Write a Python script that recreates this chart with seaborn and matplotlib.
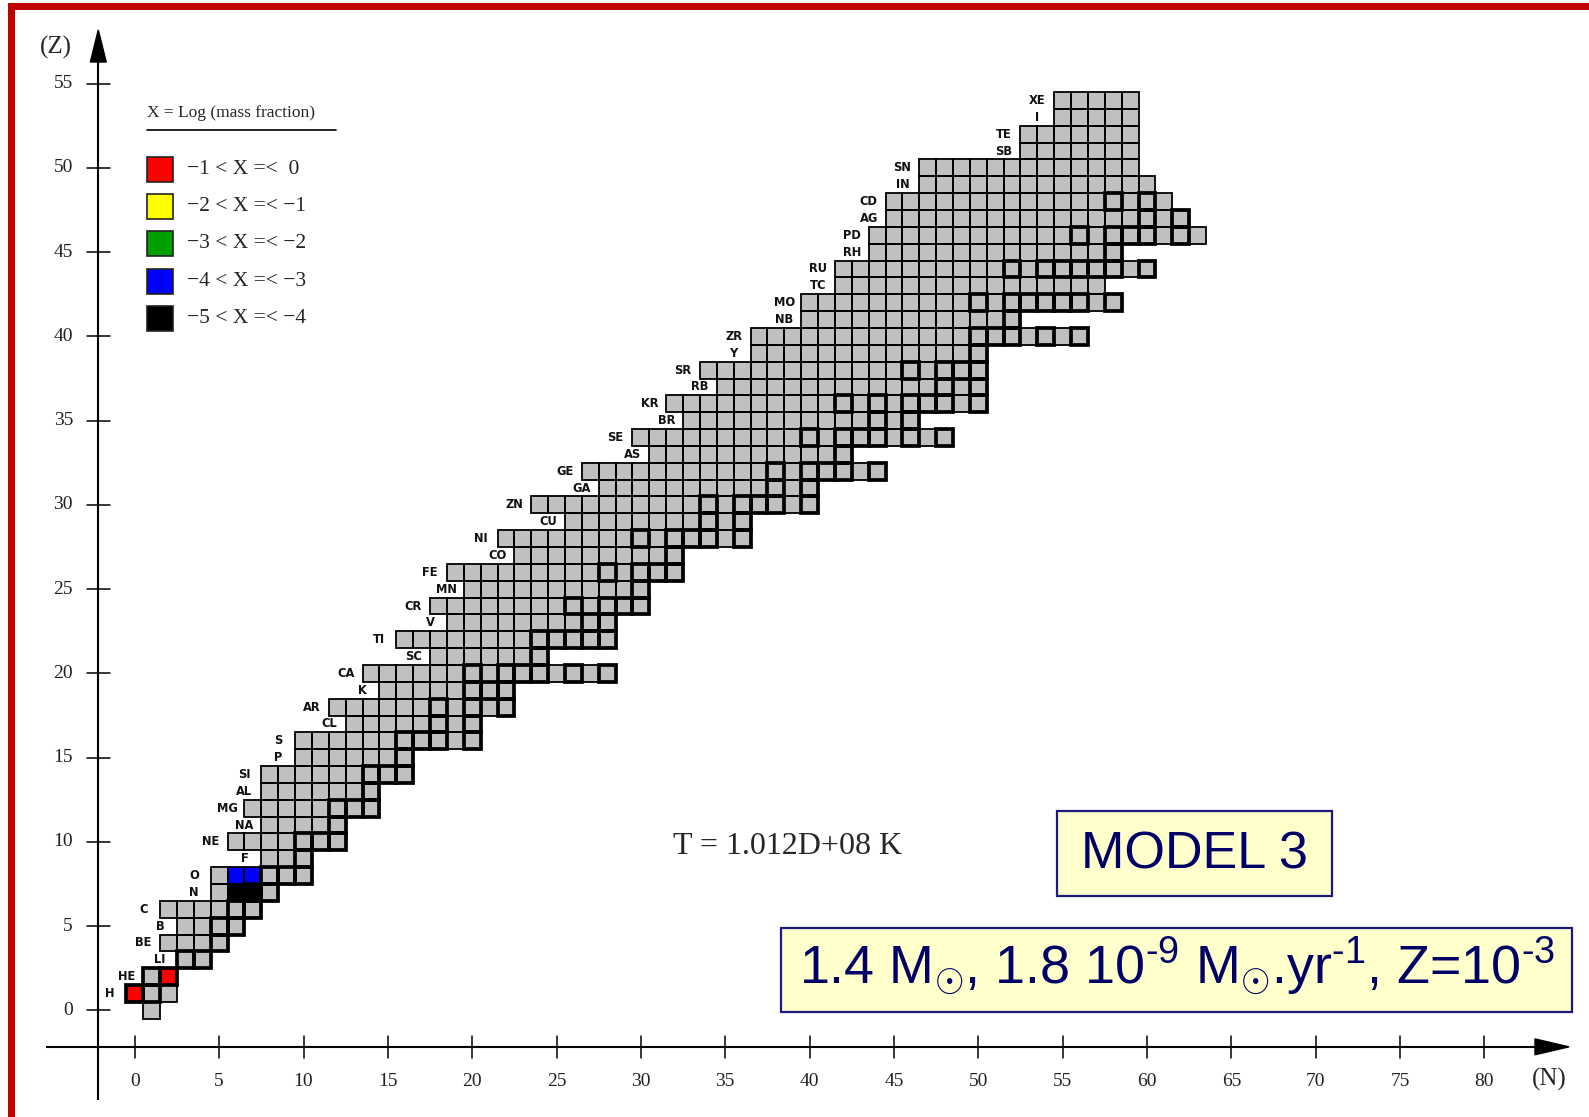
import numpy as np
import pandas as pd
import matplotlib
matplotlib.use("Agg")
import matplotlib.pyplot as plt
import matplotlib.transforms as mtransforms
from matplotlib.colors import ListedColormap
from matplotlib.patches import Rectangle, Polygon
import seaborn as sns

# ---------------------------------------------------------------- data
# element symbol for each proton number Z (index = Z, Z=0 is the neutron)
ELEMENTS = ["", "H", "HE", "LI", "BE", "B", "C", "N", "O", "F", "NE",
            "NA", "MG", "AL", "SI", "P", "S", "CL", "AR", "K", "CA",
            "SC", "TI", "V", "CR", "MN", "FE", "CO", "NI", "CU", "ZN",
            "GA", "GE", "AS", "SE", "BR", "KR", "RB", "SR", "Y", "ZR",
            "NB", "MO", "TC", "RU", "RH", "PD", "AG", "CD", "IN", "SN",
            "SB", "TE", "I", "XE"]

# neutron-number range of the network for each Z
N_MIN = [1, 0, 1, 3, 2, 3, 2, 5, 5, 8, 6, 8, 7, 8, 8, 10, 10, 13, 12, 15,
         14, 18, 16, 19, 18, 20, 19, 23, 22, 26, 24, 28, 27, 31, 30, 33,
         32, 35, 34, 37, 37, 40, 40, 42, 42, 44, 44, 45, 45, 47, 47, 53,
         53, 55, 55]
N_MAX = [1, 2, 2, 4, 5, 6, 7, 8, 10, 10, 12, 12, 14, 14, 16, 16, 20, 20,
         22, 22, 28, 24, 28, 28, 30, 30, 32, 32, 36, 36, 40, 40, 44, 42,
         48, 46, 50, 50, 50, 50, 56, 52, 58, 57, 60, 58, 63, 62, 61, 60,
         59, 59, 59, 59, 59]

# stable nuclides (neutron numbers) inside the network, per Z
STABLE_N = [[], [0, 1], [1, 2], [3, 4], [5], [5, 6], [6, 7], [7, 8],
            [8, 9, 10], [10], [10, 11, 12], [12], [12, 13, 14], [14],
            [14, 15, 16], [16], [16, 17, 18, 20], [18, 20], [18, 20, 22],
            [20, 21, 22], [20, 22, 23, 24, 26, 28], [24],
            [24, 25, 26, 27, 28], [27, 28], [26, 28, 29, 30], [30],
            [28, 30, 31, 32], [32], [30, 32, 33, 34, 36], [34, 36],
            [34, 36, 37, 38, 40], [38, 40], [38, 40, 41, 42, 44], [42],
            [40, 42, 43, 44, 46, 48], [44, 46], [42, 44, 46, 47, 48, 50],
            [48, 50], [46, 48, 49, 50], [50], [50, 51, 52, 54, 56], [52],
            [50, 52, 53, 54, 55, 56, 58], [], [52, 54, 55, 56, 57, 58, 60],
            [58], [56, 58, 59, 60, 62], [60, 62], [58, 60], [], [], [], [],
            [], []]

# nuclides with a noticeable mass fraction and their abundance class
HOT_Z = [1, 2, 7, 7, 8, 8]
HOT_N = [0, 2, 6, 7, 6, 7]
HOT_BIN = [0, 0, 4, 4, 3, 3]

BIN_LABELS = ["\u22121 < X =<  0", "\u22122 < X =< \u22121",
              "\u22123 < X =< \u22122", "\u22124 < X =< \u22123",
              "\u22125 < X =< \u22124"]
BIN_COLORS = ["#FF0000", "#FFFF00", "#00A000", "#0000FF", "#000000"]

Z_TICKS = list(range(0, 56, 5))
N_TICKS = list(range(0, 81, 5))

TEMPERATURE = "T = 1.012D+08 K"
MODEL = "MODEL 3"
HY = "\u2010"
PARAMS = ("1.4 M$_{\\odot}$, 1.8 10$^{\\mathrm{" + HY + "9}}$ M$_{\\odot}$"
          ".yr$^{\\mathrm{" + HY + "1}}$, Z=10$^{\\mathrm{" + HY + "3}}$")

# ---------------------------------------------------------------- style
sns.set_style("white")
plt.rcParams["font.family"] = ["DejaVu Sans"]
plt.rcParams["mathtext.fontset"] = "custom"
plt.rcParams["mathtext.rm"] = "Liberation Sans"
plt.rcParams["mathtext.it"] = "Liberation Sans:italic"
plt.rcParams["mathtext.bf"] = "Liberation Sans:bold"

W, H = 1589, 1117
fig = plt.figure(figsize=(W / 100, H / 100), dpi=100)
ax = fig.add_axes([0, 0, 1, 1])

# pixel -> data helpers (one cell = one unit in N and Z)
CELL_X, CELL_Y = 16.87, 16.85
X0, Y0 = 134.8, 1010.4


def dx(px):
    return (px - X0) / CELL_X


def dy(py):
    return (Y0 - py) / CELL_Y


# ---------------------------------------------------------------- cells
n_cols = max(N_MAX) + 1
grid = pd.DataFrame(np.nan, index=range(len(N_MIN)), columns=range(n_cols))
for z, (lo, hi) in enumerate(zip(N_MIN, N_MAX)):
    grid.loc[z, lo:hi] = 0
for z, n, b in zip(HOT_Z, HOT_N, HOT_BIN):
    grid.loc[z, n] = b + 1

cmap = ListedColormap(["#C0C0C0"] + BIN_COLORS)
sns.heatmap(grid, ax=ax, cmap=cmap, vmin=-0.5, vmax=len(BIN_COLORS) + 0.5,
            cbar=False, linewidths=0, xticklabels=False, yticklabels=False)
# centre every cell on its integer (N, Z)
mesh = ax.collections[0]
mesh.set_transform(mtransforms.Affine2D().translate(-0.5, -0.5) + ax.transData)

ax.set_xlim(dx(0), dx(W))
ax.set_ylim(dy(H), dy(0))
ax.axis("off")

THIN, THICK = 1.3, 2.7
for z, (lo, hi) in enumerate(zip(N_MIN, N_MAX)):
    for n in range(lo, hi + 1):
        ax.add_patch(Rectangle((n - 0.5, z - 0.5), 1, 1, fill=False,
                               ec="black", lw=THIN, zorder=3))
for z, ns in enumerate(STABLE_N):
    for n in ns:
        ax.add_patch(Rectangle((n - 0.5, z - 0.5), 1, 1, fill=False,
                               ec="black", lw=THICK, zorder=4,
                               joinstyle="miter"))

# element names left of each row
for z in range(1, len(ELEMENTS)):
    ax.text(N_MIN[z] - 1.5, z, ELEMENTS[z], ha="center", va="center",
            fontsize=8.3, fontweight="bold", family="DejaVu Sans",
            color="#111111", zorder=5)

# ---------------------------------------------------------------- axes
cross = dx(98.3)          # both axes cross at the same offset
axis_kw = dict(color="black", lw=1.5, zorder=5, solid_capstyle="butt")
ax.plot([cross, cross], [dy(1099.6), dy(60)], **axis_kw)
ax.plot([dx(45.6), dx(1537)], [cross, cross], **axis_kw)
aw = 0.47
ax.add_patch(Polygon([[cross - aw, dy(62)], [cross + aw, dy(62)],
                      [cross, dy(30)]], closed=True, fc="black", ec="black",
                     zorder=6))
ax.add_patch(Polygon([[dx(1535), cross - aw], [dx(1535), cross + aw],
                      [dx(1569), cross]], closed=True, fc="black", ec="black",
                     zorder=6))

tick_font = dict(family="Liberation Serif", fontsize=14, color="#222222")
for z in Z_TICKS:
    ax.plot([dx(87), dx(109.5)], [z, z], color="black", lw=1.1, zorder=5)
    ax.text(dx(73), z, str(z), ha="right", va="center", **tick_font)
for n in N_TICKS:
    ax.plot([n, n], [dy(1035.7), dy(1058)], color="black", lw=1.1, zorder=5)
    ax.text(n, dy(1081), str(n), ha="center", va="center", **tick_font)
ax.text(dx(56), dy(47), "(Z)", ha="center", va="center",
        family="Liberation Serif", fontsize=18)
ax.text(dx(1549), dy(1079), "(N)", ha="center", va="center",
        family="Liberation Serif", fontsize=18)

# ---------------------------------------------------------------- legend
ax.text(dx(147), dy(113), "X = Log (mass fraction)", ha="left", va="center",
        family="Liberation Serif", fontsize=12.5)
ax.plot([dx(147), dx(336)], [dy(130), dy(130)], color="black", lw=1.2)
for i, (lab, col) in enumerate(zip(BIN_LABELS, BIN_COLORS)):
    yc = 169.5 + 37.2 * i
    ax.add_patch(Rectangle((dx(147), dy(yc + 12.5)), dx(173) - dx(147),
                           dy(yc - 12.5) - dy(yc + 12.5), fc=col,
                           ec="#222222", lw=1.2, zorder=5))
    ax.text(dx(187), dy(yc), lab, ha="left", va="center",
            family="Liberation Serif", fontsize=15.5)

# ---------------------------------------------------------------- notes
ax.text(dx(673), dy(847), TEMPERATURE, ha="left", va="center",
        family="Liberation Serif", fontsize=23)

navy = "#000066"
for (x0, y0, x1, y1) in [(1057, 811, 1332, 896), (781, 928, 1572, 1012)]:
    ax.add_patch(Rectangle((dx(x0), dy(y1)), dx(x1) - dx(x0), dy(y0) - dy(y1),
                           fc="#FFFFCC", ec="#1A1A80", lw=1.6, zorder=6))
ax.text(dx(1194.5), dy(855), MODEL, ha="center", va="center", color=navy,
        family="Liberation Sans", fontsize=37.5, zorder=7)
ax.text(dx(1177), dy(967), PARAMS, ha="center", va="center", color=navy,
        family="Liberation Sans", fontsize=38.8, zorder=7)

# ---------------------------------------------------------------- frame
fig.patches.append(Rectangle((11 / W, -0.1), 1.2, 1.1 - 6 / H,
                             transform=fig.transFigure, fill=False,
                             ec="#C00000", lw=5))

fig.savefig("out.png", dpi=100)
